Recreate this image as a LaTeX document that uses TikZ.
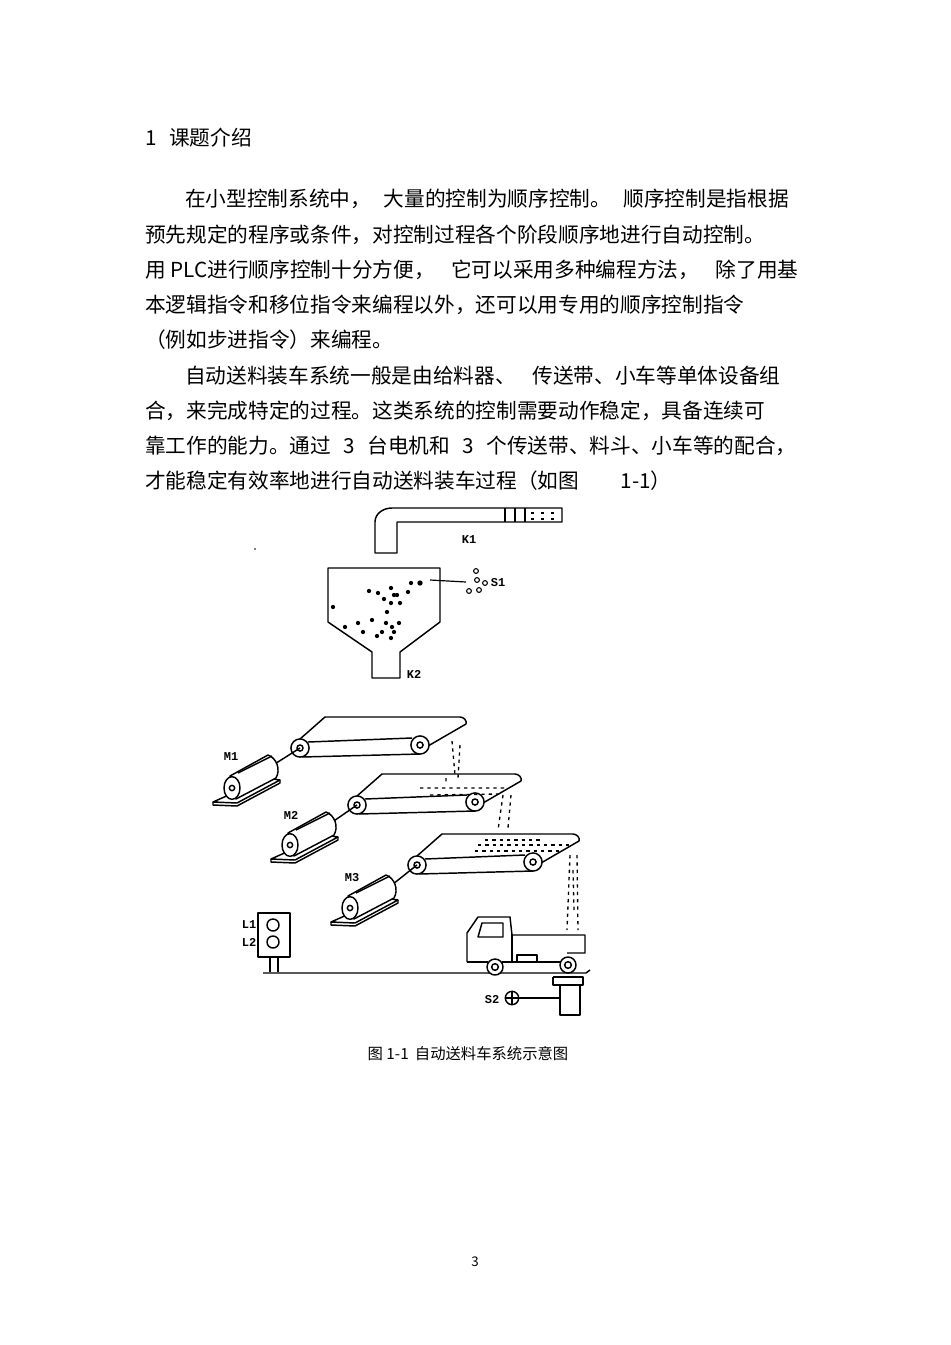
\documentclass[tikz,border=0pt]{standalone}
\usepackage{fontspec}
\setmainfont{Noto Sans CJK SC}
\newfontfamily\lblfont{Liberation Mono}[BoldFont={Liberation Mono Bold}]
\tikzset{
 body/.style={anchor=west,inner sep=0pt,font=\fontsize{15.5}{18}\selectfont},
 lbl/.style={inner sep=0pt,font=\lblfont\bfseries\fontsize{9}{10}\selectfont},
 fig/.style={line width=1.1pt,line join=round},
 fall/.style={line width=1pt,dash pattern=on 2.5pt off 3pt}
}
\newcommand\convbelt[3]{%
 \begin{scope}[shift={(#1,#2)}]
 \draw[fig] (0,-9) -- (25,-31) -- (#3+40,-31) to[out=0,in=70] (#3+46,-24) -- (#3+8,-2);
 \draw[fig] (2,9) -- (#3,6);
 \draw[fig] (8,-6) -- (#3-8,-10);
 \draw[fig,fill=white] (0,0) circle (6.8pt); \draw[fig] (0,0) circle (2.3pt);
 \draw[fig,fill=white] (#3,-3) circle (6.8pt); \draw[fig] (#3,-3) circle (2.3pt);
 \end{scope}}
\newcommand\motor[2]{%
 \begin{scope}[shift={(#1,#2)}]
 \draw[fig,fill=white] (-19,14) -- (5,15) -- (48,-8) -- (35,-10) -- cycle;
 \draw[fig] (-19,14) -- (-19,17) -- (5,18) -- (48,-5) -- (48,-8);
 \draw[fig,fill=white] (-2,-12) -- (36,-33) to[out=-20,in=60] (44,-10) -- (4,11) -- cycle;
 \draw[fig] (6,-15) -- (40,-32);
 \draw[fig,fill=white] (0,0) ellipse [x radius=6pt, y radius=8.5pt];
 \draw[fig] (0,0) circle (2pt);
 \end{scope}}
\begin{document}
\begin{tikzpicture}[x=0.75pt,y=-0.75pt]
\useasboundingbox (0,0) rectangle (950,1345);
\fill[white] (0,0) rectangle (950,1345);
% text
\node[body] (h) at (145,138) {1\hspace{0.6em}课题介绍};
\node[body] (p1) at (185,199) {在小型控制系统中，\hspace{0.6em}大量的控制为顺序控制。\hspace{0.6em}顺序控制是指根据};
\node[body] (p2) at (145,235) {预先规定的程序或条件，对控制过程各个阶段顺序地进行自动控制。};
\node[body] (p3) at (145,270) {用 PLC进行顺序控制十分方便，\hspace{0.8em}它可以采用多种编程方法，\hspace{0.8em}除了用基};
\node[body] (p4) at (145,305) {本逻辑指令和移位指令来编程以外，还可以用专用的顺序控制指令};
\node[body] (p5) at (145,340) {（例如步进指令）来编程。};
\node[body] (p6) at (185,376) {自动送料装车系统一般是由给料器、\hspace{0.8em}传送带、小车等单体设备组};
\node[body] (p7) at (145,411) {合，来完成特定的过程。这类系统的控制需要动作稳定，具备连续可};
\node[body] (p8) at (145,446) {靠工作的能力。通过\hspace{0.6em}3\hspace{0.6em}台电机和\hspace{0.6em}3\hspace{0.6em}个传送带、料斗、小车等的配合，};
\node[body] (p9) at (145,481) {才能稳定有效率地进行自动送料装车过程（如图\hspace{2em}1-1）};
\node[inner sep=0pt,font=\fontsize{11.5}{13}\selectfont] (cap) at (468,1054) {图 1-1\hspace{0.4em}自动送料车系统示意图};
\node[inner sep=0pt,font=\fontsize{10}{12}\selectfont] (pg) at (475,1262) {3};
% pipe K1
\draw[fig] (375,553) -- (375,522) to[out=90,in=180] (392,508) -- (562,508) -- (562,522) -- (397,522) -- (397,553) -- cycle;
\draw[fig] (505,508) -- (505,522) (515,508) -- (515,522) (525,508) -- (525,522);
\foreach \px in {531,541,551} {\fill (\px,512) rectangle +(3,2); \fill (\px,518) rectangle +(3,2);}
\fill (255,549) circle (0.7pt);
\node[lbl] (k1) at (469,540) {K1};
% hopper
\draw[fig] (328,568) -- (440,568) -- (440,622) -- (400,652) -- (400,678) -- (372,678) -- (372,652) -- (328,622) -- cycle;
\node[lbl] (k2) at (414,674) {K2};
\foreach \dx/\dy in {333/607,345/627,358/623,363/632,372/620,377/636,382/632,386/623,392/627,391/638,394/632,399/623,387/612,391/603,400/603,394/595,397/595,384/599,378/593,369/591,391/588,408/592,411/583}
 \fill (\dx,\dy) circle (1.6pt);
\fill (420,583) circle (2pt);
\coordinate (s1a) at (430,580);
\coordinate (s1b) at (466,582);
\draw[line width=0.9pt] (s1a) -- (s1b);
\foreach \dx/\dy in {476/571,477/580,485/583,479/590,469/591} \draw[line width=0.8pt] (\dx,\dy) circle (1.8pt);
\node[lbl] (s1) at (498,583) {S1};
% conveyors
\convbelt{300}{748}{120}
\convbelt{357}{805}{118}
\convbelt{417}{865}{116}
% motors and shafts
\draw[fig] (270,767) -- (300,748);
\draw[fig] (328,825) -- (357,805);
\draw[fig] (388,888) -- (417,865);
\motor{232}{788}
\motor{290}{845}
\motor{350}{908}
\node[lbl] (m1) at (231,757) {M1};
\node[lbl] (m2) at (291,815) {M2};
\node[lbl] (m3) at (352,878) {M3};
% falling material
\draw[fall] (452,741) -- (455,775) (460,745) -- (458,778) (446,778) -- (446,784);
\draw[fall] (420,788) -- (505,788) (430,795) -- (500,794);
\draw[fall] (503,795) -- (498,830) (511,795) -- (508,828);
\draw[fall] (478,845) -- (570,845) (475,851) -- (560,851) (485,840) -- (540,840);
\draw[fall] (570,855) -- (567,930) (577,855) -- (578,930) (573,870) -- (574,910);
% traffic light
\draw[fig] (258,913) rectangle (290,957);
\draw[fig] (273,925) circle (4.5pt);
\draw[fig] (273,942) circle (4.5pt);
\draw[fig] (270,957) -- (270,972) (278,957) -- (278,972);
\node[lbl] (l1) at (249,925) {L1};
\node[lbl] (l2) at (249,942) {L2};
% ground
\draw[fig] (263,973) -- (586,973) -- (590,970);
% truck
\draw[fig] (467,962) -- (467,933) -- (478,917) -- (510,917) -- (512,935) -- (585,935) -- (585,953) -- (567,953);
\draw[fig] (467,962) -- (488,962);
\draw[fig] (502,962) -- (560,962);
\draw[fig] (512,935) -- (512,962);
\draw[fig] (482,923) -- (503,923) -- (503,937) -- (478,937) -- cycle;
\draw[fig] (517,955) rectangle (537,962);
\draw[fig,fill=white] (495,967) circle (6pt); \draw[fig] (495,967) circle (2.5pt);
\draw[fig,fill=white] (568,965) circle (6pt); \draw[fig] (568,965) circle (2.5pt);
% sensor S2
\draw[fig] (553,977) -- (583,977) -- (583,985) -- (560,985);
\draw[fig] (553,977) -- (553,985) -- (560,985) -- (560,1015) -- (580,1015) -- (580,985);
\node[draw,circle,line width=1.1pt,minimum size=10pt,inner sep=0pt] (s2c) at (512,998) {};
\draw[line width=1pt] (s2c.north) -- (s2c.south) (s2c.west) -- (s2c.east);
\coordinate (s2box) at (560,998);
\draw[line width=0.9pt] (s2c) -- (s2box);
\node[lbl] (s2) at (492,1000) {S2};
\end{tikzpicture}
\end{document}
